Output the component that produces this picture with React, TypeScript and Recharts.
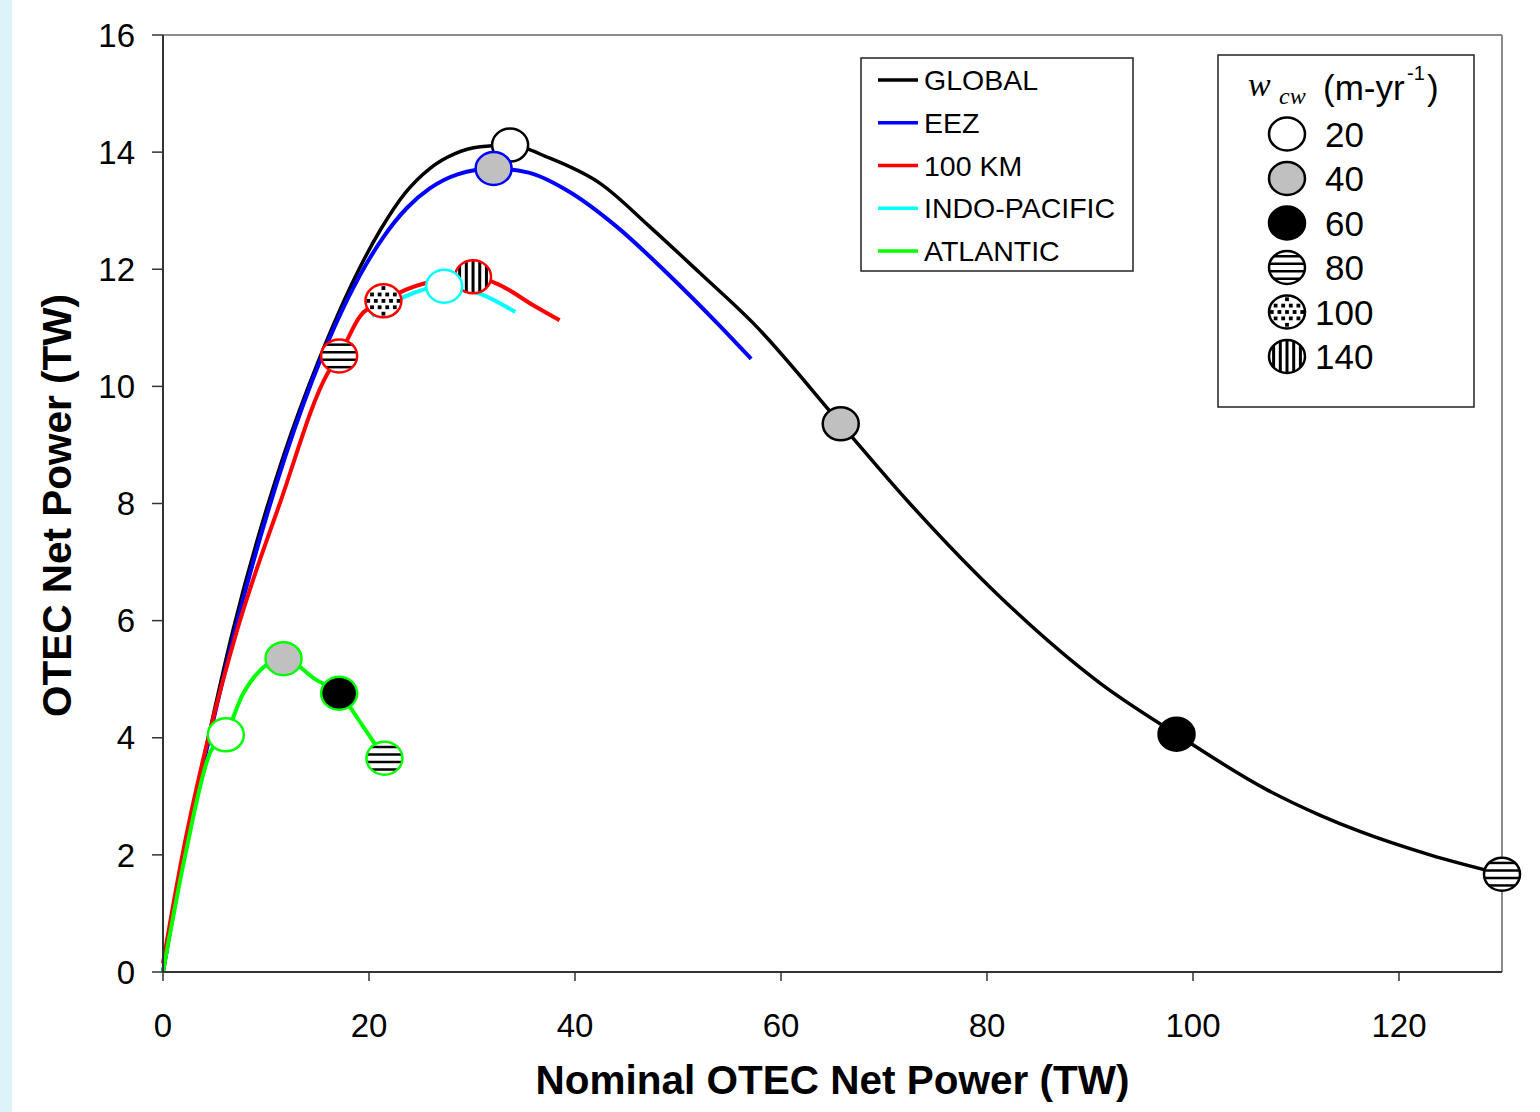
import React from "react";
import { LineChart, Line, XAxis, YAxis, ReferenceLine } from "recharts";

type Pt = { x: number; y: number; w?: number };

// points; w = cold-water velocity marker (m/yr)
const globalPts: Pt[] = [
  { x: 0, y: 0 }, { x: 2.0, y: 2.0 }, { x: 4.4, y: 4.0 }, { x: 6.8, y: 5.84 },
  { x: 11.65, y: 8.79 }, { x: 15.24, y: 10.5 }, { x: 21.1, y: 12.67 },
  { x: 23.5, y: 13.3 }, { x: 25.9, y: 13.72 }, { x: 28.3, y: 13.97 },
  { x: 30.8, y: 14.09 }, { x: 33.7, y: 14.12, w: 20 }, { x: 37.5, y: 13.9 },
  { x: 42.4, y: 13.47 }, { x: 47.3, y: 12.72 }, { x: 52.1, y: 11.94 },
  { x: 57.3, y: 11.08 }, { x: 65.8, y: 9.36, w: 40 }, { x: 72.2, y: 8.06 },
  { x: 81.3, y: 6.4 }, { x: 91.0, y: 4.93 }, { x: 98.4, y: 4.06, w: 60 },
  { x: 107.2, y: 3.11 }, { x: 112.3, y: 2.68 }, { x: 116.2, y: 2.4 },
  { x: 123.0, y: 2.0 }, { x: 130.0, y: 1.67, w: 80 },
];

const eezPts: Pt[] = [
  { x: 0, y: 0 }, { x: 2.05, y: 2.0 }, { x: 4.5, y: 4.0 }, { x: 7.0, y: 5.84 },
  { x: 11.85, y: 8.79 }, { x: 15.4, y: 10.5 }, { x: 21.4, y: 12.55 },
  { x: 23.7, y: 13.05 }, { x: 25.9, y: 13.38 }, { x: 28.6, y: 13.62 },
  { x: 32.1, y: 13.72, w: 40 }, { x: 35.5, y: 13.65 }, { x: 39.2, y: 13.35 },
  { x: 44.1, y: 12.72 }, { x: 48.9, y: 11.94 }, { x: 53.8, y: 11.08 },
  { x: 57.1, y: 10.47 },
];

const km100Pts: Pt[] = [
  { x: 0, y: 0.15 }, { x: 2.0, y: 2.1 }, { x: 4.4, y: 4.0 }, { x: 7.2, y: 5.84 },
  { x: 11.36, y: 8.01 }, { x: 16.0, y: 10.23 }, { x: 17.1, y: 10.52, w: 80 },
  { x: 19.1, y: 11.19 }, { x: 21.4, y: 11.46, w: 100 }, { x: 25.6, y: 11.77 },
  { x: 30.1, y: 11.87, w: 140 }, { x: 32.7, y: 11.73 }, { x: 35.9, y: 11.39 },
  { x: 38.5, y: 11.13 },
];

const indoPts: Pt[] = [
  { x: 20.3, y: 11.2 }, { x: 23.3, y: 11.52 }, { x: 27.3, y: 11.71, w: 20 },
  { x: 30.8, y: 11.58 }, { x: 34.2, y: 11.27 },
];

const atlanticPts: Pt[] = [
  { x: 0, y: 0 }, { x: 2.2, y: 2.03 }, { x: 4.56, y: 3.74 },
  { x: 6.1, y: 4.05, w: 20 }, { x: 7.8, y: 4.76 }, { x: 11.7, y: 5.35, w: 40 },
  { x: 14.95, y: 4.98 }, { x: 17.1, y: 4.76, w: 60 }, { x: 19.4, y: 4.2 },
  { x: 21.5, y: 3.65, w: 80 },
];

const seriesNames = ["GLOBAL", "EEZ", "100 KM", "INDO-PACIFIC", "ATLANTIC"];
const seriesColors = ["#000000", "#0000ff", "#ff0000", "#00ffff", "#00ff00"];
const seriesData = [globalPts, eezPts, km100Pts, indoPts, atlanticPts];

const wcwValues = [20, 40, 60, 80, 100, 140];
const xTicks = [0, 20, 40, 60, 80, 100, 120];
const yTicks = [0, 2, 4, 6, 8, 10, 12, 14, 16];

const FONT = "'Liberation Sans', Arial, Helvetica, sans-serif";
const SERIF = "'Liberation Serif', 'Times New Roman', serif";

function Marker({ cx, cy, w, stroke }: { cx: number; cy: number; w: number; stroke: string }) {
  const rx = 18;
  const ry = 16.5;
  const parts: React.ReactNode[] = [];
  let fill = "#ffffff";
  if (w === 40) fill = "#c0c0c0";
  if (w === 60) fill = "#000000";
  if (w === 80) {
    [-11.25, -3.75, 3.75, 11.25].forEach((dy, i) => {
      const h = rx * Math.sqrt(1 - (dy / ry) ** 2);
      parts.push(
        <line key={i} x1={cx - h} x2={cx + h} y1={cy + dy} y2={cy + dy} stroke="#000" strokeWidth={2.5} />
      );
    });
  }
  if (w === 140) {
    [-13.4, -6.7, 0, 6.7, 13.4].forEach((dx, i) => {
      const h = ry * Math.sqrt(1 - (dx / rx) ** 2);
      parts.push(
        <line key={i} x1={cx + dx} x2={cx + dx} y1={cy - h} y2={cy + h} stroke="#000" strokeWidth={3} />
      );
    });
  }
  if (w === 100) {
    for (let j = -2; j <= 2; j++) {
      for (let i = -2; i <= 2; i++) {
        const px = i * 7.6 + (j % 2 !== 0 ? 3.8 : 0);
        const py = j * 6.4;
        if ((px / (rx - 2.5)) ** 2 + (py / (ry - 2.5)) ** 2 < 1) {
          parts.push(
            <rect key={`${i}_${j}`} x={cx + px - 1.9} y={cy + py - 1.9} width={3.8} height={3.8} fill="#000" />
          );
        }
      }
    }
  }
  return (
    <g>
      <ellipse cx={cx} cy={cy} rx={rx} ry={ry} fill={fill} />
      {parts}
      <ellipse cx={cx} cy={cy} rx={rx} ry={ry} fill="none" stroke={stroke} strokeWidth={2.5} />
    </g>
  );
}

const makeDot = (color: string) => (props: any) => {
  const { cx, cy, payload, index } = props;
  if (payload && payload.w) {
    return <Marker key={`m${index}`} cx={cx} cy={cy} w={payload.w} stroke={color} />;
  }
  return <g key={`e${index}`} />;
};

export default function App() {
  return (
    <div style={{ position: "absolute", left: 0, top: 0, width: 1540, height: 1112, background: "#fff" }}>
      <div style={{ position: "absolute", left: 0, top: 0, width: 12, height: 1112, background: "#dcf4f8" }} />
      <LineChart
        width={1540}
        height={1112}
        margin={{ top: 35, right: 38, bottom: 0, left: 3 }}
        style={{ fontFamily: FONT }}
      >
        <XAxis
          type="number"
          dataKey="x"
          domain={[0, 130]}
          ticks={xTicks}
          height={140}
          tickSize={9}
          tickMargin={33}
          axisLine={{ stroke: "#333", strokeWidth: 2 }}
          tickLine={{ stroke: "#333", strokeWidth: 1.5 }}
          tick={{ fill: "#000", fontSize: 33, fontFamily: FONT }}
          label={{
            content: (p: any) => {
              const vb = p.viewBox;
              return (
                <text
                  x={vb.x + vb.width / 2}
                  y={1094}
                  textAnchor="middle"
                  fontFamily={FONT}
                  fontWeight="bold"
                  fontSize={40.5}
                  fill="#000"
                >
                  Nominal OTEC Net Power (TW)
                </text>
              );
            },
          }}
        />
        <YAxis
          type="number"
          dataKey="y"
          domain={[0, 16]}
          ticks={yTicks}
          width={160}
          tickSize={11}
          tickMargin={17}
          axisLine={{ stroke: "#333", strokeWidth: 2 }}
          tickLine={{ stroke: "#333", strokeWidth: 1.5 }}
          tick={{ fill: "#000", fontSize: 33, fontFamily: FONT }}
          label={{
            content: (p: any) => {
              const vb = p.viewBox;
              const cx = 57;
              const cy = vb.y + vb.height / 2 + 2;
              return (
                <text
                  x={cx}
                  y={cy}
                  transform={`rotate(-90, ${cx}, ${cy})`}
                  textAnchor="middle"
                  dominantBaseline="central"
                  fontFamily={FONT}
                  fontWeight="bold"
                  fontSize={40.5}
                  fill="#000"
                >
                  OTEC Net Power (TW)
                </text>
              );
            },
          }}
        />
        <ReferenceLine y={16} stroke="#8c8c8c" strokeWidth={2} />
        <ReferenceLine x={130} stroke="#8c8c8c" strokeWidth={2} />
        {seriesData.map((d, i) => (
          <Line
            key={seriesNames[i]}
            data={d}
            dataKey="y"
            type="monotone"
            stroke={seriesColors[i]}
            strokeWidth={i === 0 ? 3.5 : 4}
            dot={makeDot(seriesColors[i])}
            activeDot={false}
            isAnimationActive={false}
          />
        ))}
      </LineChart>

      <svg
        width={1540}
        height={1112}
        style={{ position: "absolute", left: 0, top: 0, pointerEvents: "none" }}
        fontFamily={FONT}
      >
        <rect x={861} y={58} width={272} height={213} fill="#fff" stroke="#222" strokeWidth={1.5} />
        {seriesNames.map((n, i) => {
          const cy = 80 + i * 42.75;
          return (
            <g key={n}>
              <line x1={878} x2={918} y1={cy} y2={cy} stroke={seriesColors[i]} strokeWidth={3.5} />
              <text x={924} y={cy + 10} fontSize={28.5} fill="#000">
                {n}
              </text>
            </g>
          );
        })}

        <rect x={1218} y={55} width={256} height={352} fill="#fff" stroke="#222" strokeWidth={1.5} />
        <text x={1248} y={96} fontFamily={SERIF} fontStyle="italic" fontSize={34}>
          w
        </text>
        <text x={1279} y={104} fontFamily={SERIF} fontStyle="italic" fontSize={24}>
          cw
        </text>
        <text x={1323} y={100} fontSize={35}>
          (m-yr
        </text>
        <text x={1407} y={80} fontSize={20}>
          -1
        </text>
        <text x={1427} y={100} fontSize={35}>
          )
        </text>
        {wcwValues.map((w, i) => {
          const cy = 134 + i * 44.5;
          return (
            <g key={w}>
              <Marker cx={1287} cy={cy} w={w} stroke="#000" />
              <text x={w >= 100 ? 1315 : 1325} y={cy + 12.5} fontSize={35} fill="#000">
                {w}
              </text>
            </g>
          );
        })}
      </svg>
    </div>
  );
}
